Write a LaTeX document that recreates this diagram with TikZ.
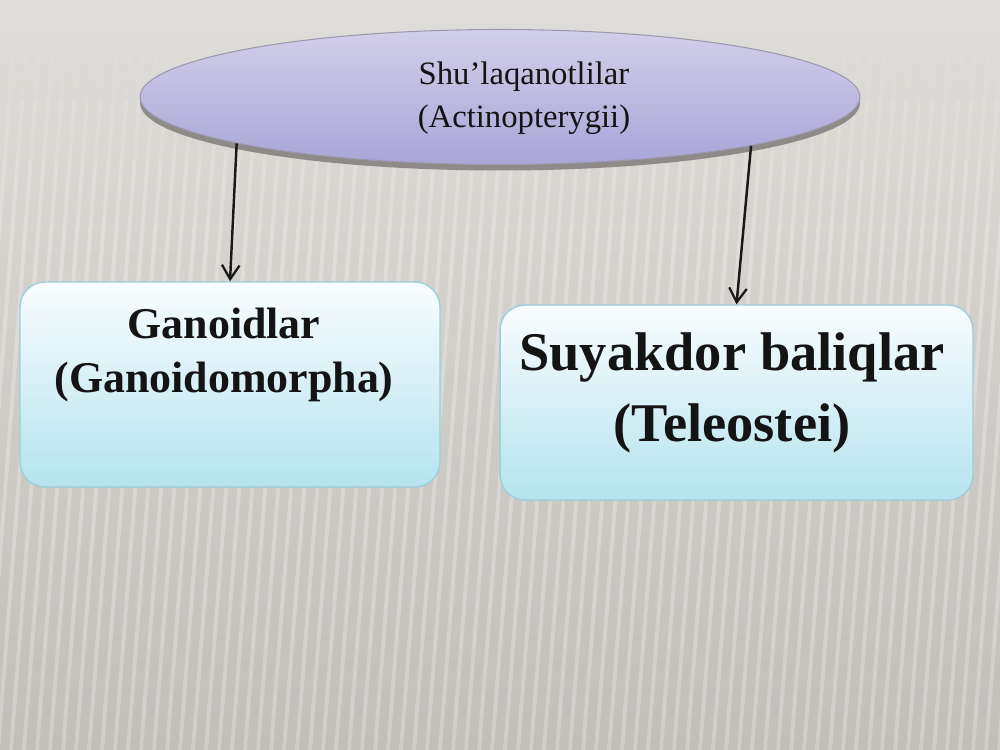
\documentclass[tikz,border=0pt]{standalone}
\usepackage{fontspec}
\setmainfont{Liberation Serif}
\usetikzlibrary{arrows.meta,shapes.geometric}
\definecolor{bgtop}{HTML}{DFDDD9}
\definecolor{bgbot}{HTML}{C2BEB9}
\definecolor{elltop}{HTML}{D2CFEA}
\definecolor{ellbot}{HTML}{A9A5D7}
\definecolor{ellrim}{HTML}{8E8A87}
\definecolor{elledge}{HTML}{9C98AE}
\definecolor{boxtop}{HTML}{F9FDFE}
\definecolor{boxbot}{HTML}{B5E3EE}
\definecolor{boxedge}{HTML}{9CCFD9}
\definecolor{txt}{HTML}{141414}
\begin{document}
\begin{tikzpicture}[x=0.02cm,y=-0.02cm,
  ellbox/.style={ellipse, inner sep=0pt, minimum width=14.4cm, minimum height=2.7cm},
  catbox/.style={rectangle, rounded corners=0.5cm, inner sep=0pt, draw=boxedge, line width=0.8pt,
    top color=boxtop, bottom color=boxbot},
  lbl/.style={text=txt, align=center, inner sep=0pt},
  stripe/.style={white, line width=2.2pt, line cap=butt},
  arr/.style={-{Straight Barb[length=8pt,width=10pt,line width=1.3pt]}, line width=1.4pt, draw=black!90}
]
% background
\useasboundingbox (0,0) rectangle (1000,750);
\fill[top color=bgtop, bottom color=bgbot] (0,0) rectangle (1000,750);
\foreach \x in {-80,-67,...,1060} {
  \draw[stripe, opacity=0.05] (\x+55,40) -- (\x+50.35,100);
  \draw[stripe, opacity=0.11] (\x+50.35,100) -- (\x+45.7,160);
  \draw[stripe, opacity=0.18] (\x+45.7,160) -- (\x+41.06,220);
  \draw[stripe, opacity=0.25] (\x+41.06,220) -- (\x,750);
}
% ellipse with rim
\node[ellbox, fill=ellrim] (erim) at (500,103) {};
\node[ellbox, top color=elltop, bottom color=ellbot, draw=elledge, line width=0.6pt] (e) at (500,97) {};
\node[lbl, font=\fontsize{18.6}{24.4}\selectfont] (et) at (524,98) {Shu’laqanotlilar\\(Actinopterygii)};
% boxes
\node[catbox, minimum width=8.4cm, minimum height=4.1cm] (g) at (230,384.5) {};
\node[catbox, minimum width=9.46cm, minimum height=3.9cm] (r) at (736.5,402.5) {};
\node[lbl, font=\fontsize{25}{30.6}\selectfont\bfseries] (gt) at (224,355) {Ganoidlar\\(Ganoidomorpha)};
\node[lbl, font=\fontsize{31}{40}\selectfont\bfseries] (rt) at (732,393) {Suyakdor baliqlar\\(Teleostei)};
% connectors
\draw[arr] (e.190.4) -- (g.north);
\draw[arr] (e.349.3) -- (r.north);
\end{tikzpicture}
\end{document}
